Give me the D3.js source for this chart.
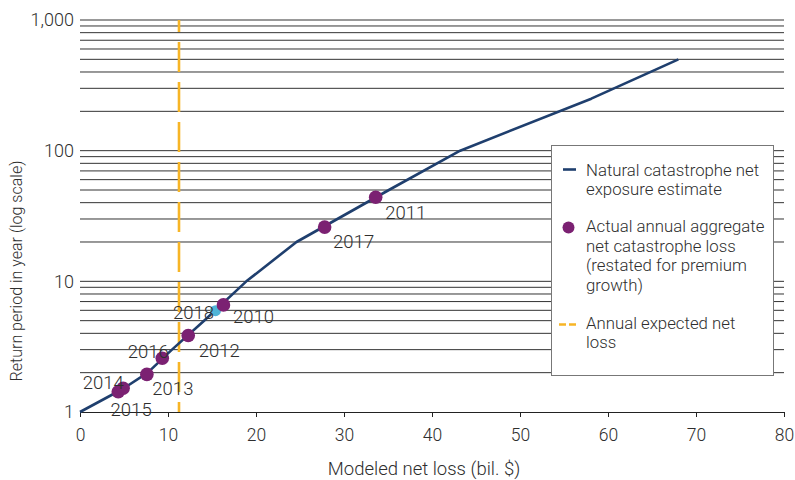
<!DOCTYPE html>
<html>
<head>
<meta charset="utf-8">
<script src="https://cdn.jsdelivr.net/npm/d3@7"></script>
<style>
  html, body { margin: 0; padding: 0; background: #fff; }
  svg text { font-family: Roboto, "Noto Sans", sans-serif; font-weight: 300; fill: #2e2e2e; }
</style>
</head>
<body>
<svg id="chart" width="795" height="480"></svg>
<script>
// Exposure curve: modeled net loss (bil. $) against return period (years)
const curveLoss   = [0, 4.85, 7.7, 10.45, 14.1, 18.9, 24.6, 35.1, 43.2, 58.1, 68.0];
const curveReturn = [1, 1.5, 2, 3, 5, 10, 20, 50, 100, 250, 500];

// Actual annual aggregate net catastrophe losses, by year
const years        = ["2014", "2015", "2013", "2016", "2012", "2018", "2010", "2017", "2011"];
const actualLoss   = [4.35, 4.9, 7.6, 9.35, 12.3, 15.4, 16.3, 27.8, 33.6];
const actualReturn = [1.43, 1.52, 1.94, 2.58, 3.85, 5.96, 6.6, 26, 44];

// Annual expected net loss (bil. $)
const expectedLoss = 11.25;

// Axis ticks
const xTicks = [0, 10, 20, 30, 40, 50, 60, 70, 80];
const yTicks = [1, 10, 100, 1000];
const yTickLabels = ["1", "10", "100", "1,000"];

const NAVY = "#1f3f6e", PURPLE = "#7b2172", CYAN = "#4fb4d6", ORANGE = "#f7b526";
const FONT = "Roboto, sans-serif";
const TEXT = "#2e2e2e";

const svg = d3.select("#chart");
const x = d3.scaleLinear().domain([0, 80]).range([80, 784]);
const y = d3.scaleLog().domain([1, 1000]).range([412, 20]);

// Horizontal grid at every log minor step
const gridVals = [];
[1, 10, 100].forEach(d => { for (let k = 2; k <= 10; k++) gridVals.push(k * d); });
svg.append("g").selectAll("line").data(gridVals).join("line")
  .attr("x1", x(0)).attr("x2", x(80))
  .attr("y1", d => y(d)).attr("y2", d => y(d))
  .attr("stroke", "#333").attr("stroke-width", 1);

// X axis
const xAxis = svg.append("g").attr("transform", `translate(0,${y(1)})`)
  .call(d3.axisBottom(x).tickValues(xTicks).tickSize(5).tickPadding(12).tickFormat(d3.format("d")));
xAxis.select(".domain").attr("stroke", "#222");
xAxis.selectAll(".tick line").attr("stroke", "#222");
xAxis.selectAll("text").attr("font-size", 17.5).attr("fill", TEXT)
  .style("font-family", FONT).style("font-weight", 300);

// Y axis labels (no axis line)
const yAxis = svg.append("g").attr("transform", `translate(${x(0)},0)`)
  .call(d3.axisLeft(y).tickValues(yTicks).tickSize(0).tickPadding(6)
    .tickFormat((d, i) => yTickLabels[i]));
yAxis.select(".domain").remove();
yAxis.selectAll("text").attr("font-size", 18).attr("fill", TEXT)
  .style("font-family", FONT).style("font-weight", 300);

// Axis titles
svg.append("text").attr("x", 424).attr("y", 475).attr("text-anchor", "middle")
  .attr("font-size", 18.5).text("Modeled net loss (bil. $)");
svg.append("text").attr("transform", "translate(22,271) rotate(-90)")
  .attr("text-anchor", "middle").attr("font-size", 16)
  .text("Return period in year (log scale)");

// Annual expected net loss marker
svg.append("line")
  .attr("x1", x(expectedLoss)).attr("x2", x(expectedLoss))
  .attr("y1", y(1000)).attr("y2", y(1))
  .attr("stroke", ORANGE).attr("stroke-width", 2.6)
  .attr("stroke-dasharray", "30 10").attr("stroke-dashoffset", 18);

// Exposure curve
const curveData = curveLoss.map((v, i) => [v, curveReturn[i]]);
svg.append("path").datum(curveData)
  .attr("fill", "none").attr("stroke", NAVY).attr("stroke-width", 2.6)
  .attr("stroke-linejoin", "round")
  .attr("d", d3.line().x(d => x(d[0])).y(d => y(d[1])));

// Actual loss points
const pts = years.map((yr, i) => ({ year: yr, loss: actualLoss[i], rp: actualReturn[i] }));
svg.append("g").selectAll("circle").data(pts).join("circle")
  .attr("cx", d => x(d.loss)).attr("cy", d => y(d.rp))
  .attr("r", d => d.year === "2018" ? 5.5 : 6.8)
  .attr("fill", d => d.year === "2018" ? CYAN : PURPLE);

// Year labels, offset from each point
const labelOffset = {
  "2014": [-15, -3], "2015": [8, 28], "2013": [26, 21], "2016": [-14, 0],
  "2012": [31, 22], "2018": [-22, 8.5], "2010": [30, 18], "2017": [29, 20.5], "2011": [30, 22]
};
svg.append("g").selectAll("text").data(pts).join("text")
  .attr("x", d => x(d.loss) + labelOffset[d.year][0])
  .attr("y", d => y(d.rp) + labelOffset[d.year][1])
  .attr("text-anchor", "middle").attr("font-size", 18.5)
  .text(d => d.year);

// Legend
const lg = svg.append("g");
lg.append("rect").attr("x", 551.5).attr("y", 145.5).attr("width", 222).attr("height", 230)
  .attr("fill", "#fff").attr("stroke", "#777").attr("stroke-width", 1);
lg.append("line").attr("x1", 563).attr("x2", 576).attr("y1", 169.5).attr("y2", 169.5)
  .attr("stroke", NAVY).attr("stroke-width", 2.6);
lg.append("circle").attr("cx", 568.5).attr("cy", 227.5).attr("r", 6).attr("fill", PURPLE);
lg.append("line").attr("x1", 559).attr("x2", 577).attr("y1", 324.5).attr("y2", 324.5)
  .attr("stroke", ORANGE).attr("stroke-width", 2.4).attr("stroke-dasharray", "7 3");

const legendLines = [
  ["Natural catastrophe net", 175.5], ["exposure estimate", 194.5],
  ["Actual annual aggregate", 232], ["net catastrophe loss", 251.5],
  ["(restated for premium", 271], ["growth)", 290.5],
  ["Annual expected net", 328.5], ["loss", 347.5]
];
lg.selectAll("text.lt").data(legendLines).join("text").attr("class", "lt")
  .attr("x", 586).attr("y", d => d[1]).attr("font-size", 16.8).text(d => d[0]);
</script>
</body>
</html>
